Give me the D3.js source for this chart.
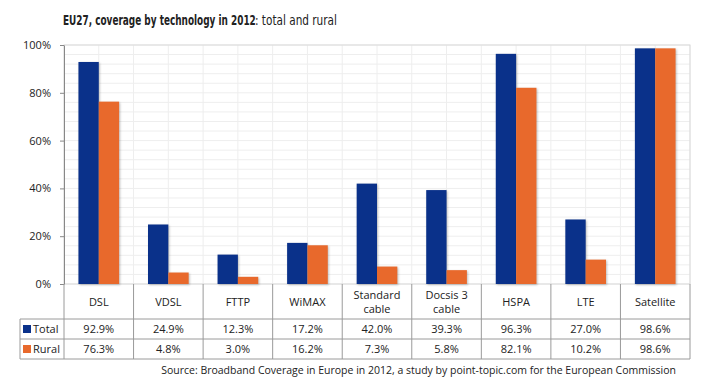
<!DOCTYPE html>
<html>
<head>
<meta charset="utf-8">
<script src="https://cdn.jsdelivr.net/npm/d3@7"></script>
<style>
  body { margin: 0; background: #fff; }
  text { font-family: "Open Sans", "Liberation Sans", sans-serif; fill: #222; }
</style>
</head>
<body>
<div id="chart"></div>
<script>
// categories and values
const categories = ['DSL', 'VDSL', 'FTTP', 'WiMAX', 'Standard\ncable', 'Docsis 3\ncable', 'HSPA', 'LTE', 'Satellite']
const totalValues = [92.9, 24.9, 12.3, 17.2, 42.0, 39.3, 96.3, 27.0, 98.6]
const ruralValues = [76.3, 4.8, 3.0, 16.2, 7.3, 5.8, 82.1, 10.2, 98.6]
const yTicks = [0, 20, 40, 60, 80, 100]

const series = [
  {name: 'Total', values: totalValues, color: '#0a318a'},
  {name: 'Rural', values: ruralValues, color: '#e8692c'}
]

const W = 714, H = 391
const margin = {top: 45, left: 64, right: 24}
const plotW = W - margin.left - margin.right
const plotH = 284 - margin.top
const headerH = 35, rowH = 20, legendLeft = 20

const svg = d3.select('#chart').append('svg')
  .attr('width', W).attr('height', H)

// title: two pieces, condensed font narrowed by a horizontal scale to the original width
const titleFont = '"DejaVu Sans Condensed", "Liberation Sans Narrow", sans-serif'
function titlePart (txt, x0, targetW, bold, color) {
  const tg = svg.append('g')
  const t = tg.append('text')
    .style('font-family', titleFont).style('font-size', '14.5px')
    .attr('font-weight', bold ? 'bold' : 'normal')
    .attr('fill', color)
    .text(txt)
  const k = Math.min(1, targetW / t.node().getComputedTextLength())
  tg.attr('transform', `translate(${x0},25) scale(${k},1)`)
}
titlePart('EU27, coverage by technology in 2012', 63, 193, true, '#222')
titlePart(': total and rural', 255, 82, false, '#333')

const g = svg.append('g').attr('transform', `translate(${margin.left},${margin.top})`)

const x = d3.scaleBand().domain(categories).range([0, plotW])
const xInner = d3.scaleBand().domain(series.map(s => s.name))
  .range([0, x.bandwidth()]).paddingOuter(1.45 / 2 * 0.98).paddingInner(0)
const y = d3.scaleLinear().domain([0, 100]).range([plotH, 0])

// faint gridlines
g.append('g').selectAll('line').data(d3.range(0, 101, 4))
  .join('line')
    .attr('x1', 0).attr('x2', plotW)
    .attr('y1', d => y(d)).attr('y2', d => y(d))
    .attr('stroke', '#eeeeee')
g.append('g').selectAll('line').data(d3.range(0, categories.length * 2 + 1))
  .join('line')
    .attr('x1', d => d * x.step() / 2).attr('x2', d => d * x.step() / 2)
    .attr('y1', 0).attr('y2', plotH)
    .attr('stroke', '#eeeeee')
g.append('rect').attr('width', plotW).attr('height', plotH)
  .attr('fill', 'none').attr('stroke', '#d9d9d9')

// bars
const groups = g.selectAll('g.cat').data(categories)
  .join('g').attr('class', 'cat')
    .attr('transform', d => `translate(${x(d)},0)`)

groups.selectAll('rect').data((d, i) => series.map(s => ({name: s.name, v: s.values[i], color: s.color})))
  .join('rect')
    .attr('x', d => xInner(d.name))
    .attr('width', xInner.bandwidth())
    .attr('y', d => y(d.v))
    .attr('height', d => plotH - y(d.v))
    .attr('fill', d => d.color)
    .style('filter', 'drop-shadow(1px 1px 1px rgba(0,0,0,0.25))')

// y axis
const yAxis = g.append('g')
  .call(d3.axisLeft(y).tickValues(yTicks).tickFormat(d => d + '%').tickSize(4).tickSizeOuter(0))
yAxis.select('.domain').attr('stroke', '#888')
yAxis.selectAll('.tick line').attr('stroke', '#888')
yAxis.selectAll('.tick text').attr('x', -13).style('font-size', '11px')
  .style('font-family', '"Open Sans", sans-serif').attr('fill', '#222')

// data table below
const table = svg.append('g').attr('transform', `translate(${margin.left},${margin.top + plotH})`)
const gridColor = '#9a9a9a'
const tableBottom = headerH + rowH * series.length

// vertical lines
table.selectAll('line.v').data(d3.range(0, categories.length + 1))
  .join('line').attr('class', 'v')
    .attr('x1', d => d * x.step()).attr('x2', d => d * x.step())
    .attr('y1', 0).attr('y2', tableBottom)
    .attr('stroke', gridColor)
// horizontal lines
table.selectAll('line.h').data(d3.range(0, series.length + 1))
  .join('line').attr('class', 'h')
    .attr('x1', legendLeft - margin.left).attr('x2', plotW)
    .attr('y1', d => headerH + d * rowH).attr('y2', d => headerH + d * rowH)
    .attr('stroke', gridColor)
table.append('line')
  .attr('x1', legendLeft - margin.left).attr('x2', legendLeft - margin.left)
  .attr('y1', headerH).attr('y2', tableBottom).attr('stroke', gridColor)

// category headers
const headers = table.selectAll('text.cat').data(categories)
  .join('text').attr('class', 'cat')
    .attr('text-anchor', 'middle')
    .style('font-size', '11px')
headers.each(function (d) {
  const lines = d.split('\n')
  const t = d3.select(this)
  const cx = x(d) + x.bandwidth() / 2
  lines.forEach((l, i) => {
    t.append('tspan').attr('x', cx)
      .attr('y', headerH / 2 + 4 + (i - (lines.length - 1) / 2) * 14)
      .text(l)
  })
})

// value rows
series.forEach((s, si) => {
  const rowY = headerH + si * rowH
  table.selectAll(`text.val${si}`).data(s.values)
    .join('text').attr('class', `val${si}`)
      .attr('x', (d, i) => x(categories[i]) + x.bandwidth() / 2)
      .attr('y', rowY + rowH / 2 + 4)
      .attr('text-anchor', 'middle')
      .style('font-size', '11px')
      .text(d => d.toFixed(1) + '%')
  table.append('rect')
    .attr('x', legendLeft - margin.left + 3).attr('y', rowY + rowH / 2 - 4)
    .attr('width', 8).attr('height', 8).attr('fill', s.color)
  table.append('text')
    .attr('x', legendLeft - margin.left + 13).attr('y', rowY + rowH / 2 + 4)
    .style('font-size', '11px')
    .text(s.name)
})

// source
svg.append('text').attr('x', 676).attr('y', 374)
  .attr('text-anchor', 'end').style('font-size', '10.5px')
  .attr('fill', '#333')
  .text('Source: Broadband Coverage in Europe in 2012, a study by point-topic.com for the European Commission')
</script>
</body>
</html>
